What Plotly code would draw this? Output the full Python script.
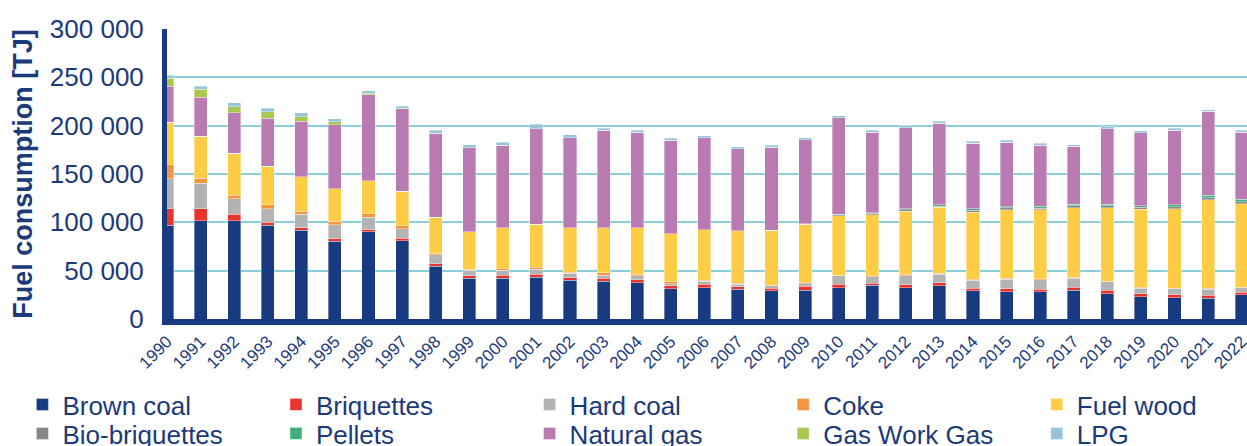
import plotly.graph_objects as go

years = list(range(1990, 2023))

# Fuel consumption by fuel type [TJ]
brown_coal = [97000, 101400, 101400, 96900, 91800, 80500, 90100, 80900, 54700, 42400,
              42400, 43400, 40300, 39300, 37300, 31100, 32500, 30800, 29000, 30000,
              32500, 34900, 32500, 34200, 29000, 28400, 28000, 30000, 26300, 22800,
              22200, 21500, 24900]
briquettes = [17100, 12700, 6900, 3400, 2700, 2700, 2400, 2400, 2700, 2400,
              3100, 3100, 2400, 3100, 3100, 3100, 3400, 2700, 2700, 4100,
              3400, 2100, 2700, 3400, 2700, 2700, 2700, 2700, 3400, 3100,
              2700, 3100, 2700]
hard_coal = [30900, 26400, 16100, 13700, 13700, 14400, 12700, 10300, 9300, 5500,
             5100, 5100, 4500, 3100, 4100, 2400, 3400, 2700, 2700, 2400,
             8600, 6900, 9600, 8900, 8600, 10000, 10000, 9300, 8900, 5800,
             6200, 6200, 4500]
coke = [14400, 5100, 3400, 4100, 3100, 3400, 3800, 3100, 1000, 1000,
        1400, 1700, 1400, 2100, 1700, 1700, 1000, 700, 700, 1300,
        1000, 1000, 1300, 1000, 700, 1000, 1000, 1000, 700, 1000,
        700, 1000, 700]
fuel_wood = [43900, 43200, 43600, 40100, 36000, 33600, 34000, 35700, 37400, 39100,
             42200, 44600, 45600, 47000, 48400, 49700, 51800, 54200, 56900, 60000,
             61400, 63100, 65200, 67900, 69600, 71000, 71300, 72000, 75800, 80600,
             82300, 91600, 86400]
bio_briquettes = [0, 0, 0, 0, 0, 0, 0, 0, 0, 0,
                  0, 0, 0, 0, 0, 0, 0, 0, 0, 400,
                  1000, 1200, 1500, 1500, 2000, 2000, 1700, 2100, 2100, 2100,
                  2000, 2100, 2100]
pellets = [0, 0, 0, 0, 0, 0, 0, 0, 0, 0,
           0, 0, 0, 0, 0, 0, 0, 0, 0, 300,
           700, 800, 1200, 1200, 1200, 1000, 2100, 1700, 1700, 1700,
           2000, 2700, 2400]
natural_gas = [37700, 40800, 42200, 49400, 57300, 66200, 88800, 85000, 87100, 86800,
               85700, 99100, 93300, 100500, 98500, 97000, 95400, 85100, 85700, 87100,
               99500, 83400, 84000, 84400, 67900, 66500, 62800, 60000, 77900, 75400,
               77200, 86800, 69600]
gas_work_gas = [7900, 7900, 5800, 6900, 4800, 3100, 1700, 500, 0, 0,
                0, 0, 0, 0, 0, 0, 0, 0, 0, 0,
                0, 0, 0, 0, 0, 0, 0, 0, 0, 0,
                0, 0, 0]
lpg = [3400, 3400, 4500, 3400, 4100, 3400, 2400, 2100, 3100, 3100,
       3100, 4500, 3100, 2400, 2400, 2100, 2100, 2100, 2100, 2100,
       2100, 2100, 2100, 2100, 2100, 2100, 2400, 1700, 2400, 2100,
       2100, 1700, 2100]

series = [
    ("Brown coal", brown_coal, "#173A80"),
    ("Briquettes", briquettes, "#E8332F"),
    ("Hard coal", hard_coal, "#B3B3B3"),
    ("Coke", coke, "#F2963F"),
    ("Fuel wood", fuel_wood, "#FFCD45"),
    ("Bio-briquettes", bio_briquettes, "#878787"),
    ("Pellets", pellets, "#42B17F"),
    ("Natural gas", natural_gas, "#BA7BB3"),
    ("Gas Work Gas", gas_work_gas, "#A8C850"),
    ("LPG", lpg, "#94C5D8"),
]

NAVY = "#1B3A7A"
FONT = "Liberation Sans, Arial, sans-serif"
W, H = 1247, 446

# legend grid: 5 columns x 2 rows below the plot
COLS = 5
COL_X0, COL_STEP = 63, 253.6   # text start of first column, column pitch (px)
ROW_Y0, ROW_STEP = 381, 29     # top of first row, row pitch (px)
SYMBOL_OFFSET = 40.6           # distance from legend box edge to item text

fig = go.Figure()
legends = {}
for i, (name, vals, color) in enumerate(series):
    key = "legend" if i == 0 else f"legend{i + 1}"
    col, row = i % COLS, i // COLS
    fig.add_trace(go.Bar(
        x=years, y=vals, name=name, width=0.39, legend=key,
        marker=dict(color=color, line=dict(color="rgba(255,255,255,0.6)", width=0.6)),
    ))
    legends[key] = dict(
        orientation="h",
        xref="container", yref="container",
        x=(COL_X0 + col * COL_STEP - SYMBOL_OFFSET) / W,
        y=1 - (ROW_Y0 + row * ROW_STEP) / H,
        xanchor="left", yanchor="top",
        font=dict(family=FONT, color=NAVY, size=26),
        itemclick=False, bgcolor="rgba(0,0,0,0)",
    )

fig.update_layout(
    barmode="stack",
    width=W, height=H,
    margin=dict(l=166.5, r=0, t=29, b=127, autoexpand=False),
    paper_bgcolor="white", plot_bgcolor="white",
    separators=". ",
    font=dict(family=FONT, color=NAVY, size=26),
    showlegend=True,
    **legends,
)

fig.update_xaxes(
    range=[1990, 2022.16],
    tickmode="array", tickvals=years, ticktext=[str(y) for y in years],
    tickangle=-45, tickfont=dict(family=FONT, color=NAVY, size=17),
    ticklabeloverflow="allow",
    showline=True, linecolor="#173A80", linewidth=6,
    showgrid=False, zeroline=False, ticks="",
)

fig.update_yaxes(
    range=[0, 300000], dtick=50000, tickformat=",d",
    tickfont=dict(family=FONT, color=NAVY, size=26),
    showline=True, linecolor="#173A80", linewidth=5,
    showgrid=True, gridcolor="#8CCFDB", gridwidth=2,
    zeroline=False, ticks="", ticklabelstandoff=13,
    title=dict(text="<b>Fuel consumption [TJ]</b>", standoff=11,
               font=dict(family=FONT, color=NAVY, size=27)),
)

fig.write_html("out.html")
